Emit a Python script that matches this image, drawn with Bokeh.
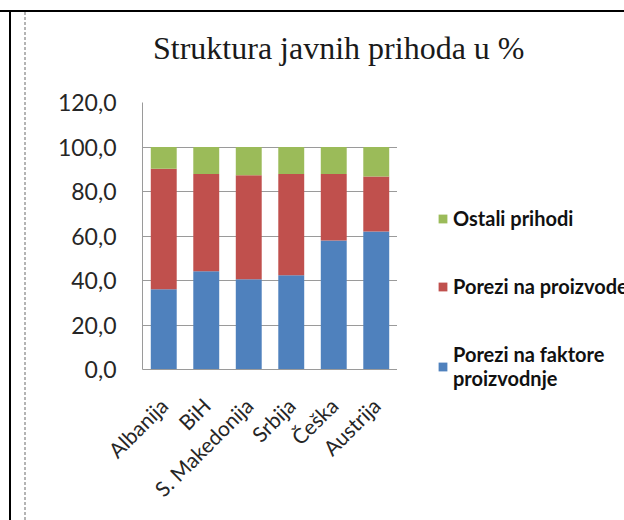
from bokeh.plotting import figure
from bokeh.models import (ColumnDataSource, Legend, LegendItem, FixedTicker, Div,
                          CustomJSTickFormatter, FactorRange, Range1d)
from bokeh.layouts import row, column
from bokeh.embed import file_html
from bokeh.resources import INLINE
import math

countries = ["Albanija", "BiH", "S. Makedonija", "Srbija", "Češka", "Austrija"]
faktori = [36.1, 44.2, 40.6, 42.4, 58.0, 62.0]
proizvodi = [54.1, 43.7, 46.7, 45.5, 29.9, 24.7]
ostali = [9.8, 12.1, 12.7, 12.1, 12.1, 13.3]
y_ticks = [0, 20, 40, 60, 80, 100, 120]
series_keys = ["faktori", "proizvodi", "ostali"]
series_names = ["Porezi na faktore\nproizvodnje", "Porezi na proizvode", "Ostali prihodi"]
colors = ["#4F81BD", "#C0504D", "#9BBB59"]
title_text = "Struktura javnih prihoda u %"

source = ColumnDataSource(dict(country=countries, faktori=faktori,
                               proizvodi=proizvodi, ostali=ostali))

# ---- title ----
title_div = Div(
    text=('<div style="margin:0; padding:31px 0 0 153px; font-family:\'Liberation Serif\'; '
          'font-size:32px; line-height:34px; color:#1a1a1a; white-space:nowrap;">'
          + title_text + '</div>'),
    width=624, height=80, margin=(0, 0, 0, 0))

# ---- chart ----
p = figure(width=397, height=440, x_range=FactorRange(factors=countries),
           y_range=Range1d(0, 120), output_backend="svg", toolbar_location=None,
           min_border_left=142, min_border_right=0, min_border_top=22,
           min_border_bottom=151)

p.vbar_stack(series_keys, x="country", width=0.61, source=source,
             color=colors, line_color=None)

p.outline_line_color = None
p.border_fill_color = None
p.background_fill_color = "white"
p.xgrid.grid_line_color = None
p.ygrid.grid_line_color = "#9a9a9a"
p.ygrid.grid_line_width = 1

p.yaxis.ticker = FixedTicker(ticks=y_ticks)
p.yaxis.formatter = CustomJSTickFormatter(code="return tick.toFixed(1).replace('.', ',');")
for ax in (p.xaxis[0], p.yaxis[0]):
    ax.axis_line_color = "#9a9a9a"
    ax.major_tick_line_color = None
    ax.minor_tick_line_color = None
    ax.major_label_text_font = "Lato"
    ax.major_label_text_color = "#262626"
p.yaxis.major_label_text_font_size = "23px"
p.yaxis.major_label_standoff = 20
p.xaxis.major_label_text_font_size = "21px"
p.xaxis.major_label_orientation = math.pi / 4
p.xaxis.major_label_standoff = 26

# ---- legend panel (legend-only figure; its frame has zero width) ----
pl = figure(width=227, height=440, x_range=FactorRange(factors=countries),
            y_range=Range1d(0, 120), x_axis_type=None, y_axis_type=None,
            output_backend="svg", toolbar_location=None,
            min_border_left=227, min_border_right=0, min_border_top=0,
            min_border_bottom=0)
pl.outline_line_color = None
pl.border_fill_color = None
pl.background_fill_color = None
pl.grid.grid_line_color = None

leg_rs = pl.vbar_stack(series_keys, x="country", width=0.61, source=source,
                       color=colors, line_color=None)
items = [LegendItem(label=series_names[i], renderers=[leg_rs[i]]) for i in (2, 1, 0)]
legend = Legend(items=items, location=(40, -21), orientation="vertical")
legend.padding = 0
legend.margin = 0
legend.border_line_color = None
legend.background_fill_alpha = 0
legend.glyph_width = 11
legend.glyph_height = 11
legend.label_height = 24
legend.spacing = 44
legend.label_standoff = 5
legend.label_text_font = "Lato"
legend.label_text_font_style = "bold"
legend.label_text_font_size = "20px"
legend.label_text_color = "#111111"
pl.add_layout(legend, "left")

layout = column(title_div, row(p, pl, spacing=0), spacing=0)

# page frame decorations (document border lines behind the chart)
layout.styles = {
    "background-color": "white",
    "background-image": ("linear-gradient(black, black), linear-gradient(black, black), "
                         "repeating-linear-gradient(to bottom, #b4b4b4 0px, #b4b4b4 3px, "
                         "transparent 3px, transparent 5px)"),
    "background-size": "100% 2px, 2px 100%, 2px 100%",
    "background-position": "0px 10px, 9px 10px, 24px 12px",
    "background-repeat": "no-repeat",
}

open("out.html", "w").write(file_html(layout, INLINE))
